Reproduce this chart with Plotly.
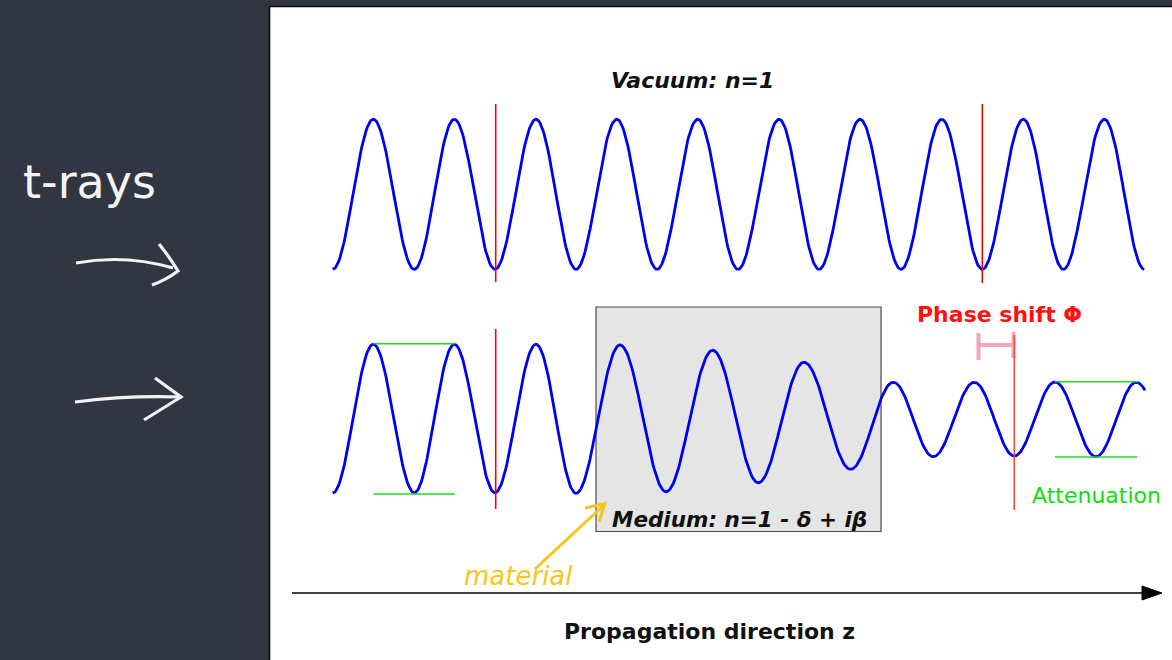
import math
import plotly.graph_objects as go

# ---------------- data (diagram units = canvas pixels) ----------------
# Vacuum wave: extrema (x, y), alternating trough/peak
vac_ext_x = [332.7, 373.3, 414.3, 454.3, 495.0, 536.0, 576.0, 616.7, 657.0, 697.7,
             738.0, 779.0, 819.0, 860.0, 901.0, 941.7, 982.3, 1023.3, 1063.3, 1104.3, 1144.3]
vac_ext_y = [269.3, 119.3, 269.3, 119.3, 269.3, 119.3, 269.3, 119.3, 269.3, 119.3,
             269.3, 119.3, 269.3, 119.3, 269.3, 119.3, 269.3, 119.3, 269.3, 119.3, 269.3]
vac_end_x = 1144.3

# Medium wave: extrema (before, inside and after the medium box)
med_ext_x = [332.7, 373.3, 414.3, 454.3, 495.0, 536.0, 576.0, 620.0, 666.0, 712.7,
             758.3, 804.0, 850.7, 893.3, 933.3, 974.3, 1014.3, 1055.0, 1096.0, 1136.3, 1177.0]
med_ext_y = [493.0, 344.3, 492.7, 344.3, 492.7, 344.3, 493.3, 345.0, 491.7, 350.3,
             482.7, 362.3, 469.3, 382.3, 456.7, 382.3, 456.0, 382.0, 456.7, 382.3, 456.7]
med_end_x = 1145.0

# Medium box
box_x = [596.0, 881.0]
box_y = [307.0, 531.5]

# Red reference lines (x, y_top, y_bottom)
red_x = [495.7, 982.3, 495.7, 1014.3]
red_y0 = [104.0, 104.0, 329.0, 335.0]
red_y1 = [282.0, 283.0, 509.0, 510.0]
red_col = ["#ff0000", "#ff0000", "#ff0000", "#f24848"]

# Green amplitude lines (x0, x1, y)
green_x0 = [373.3, 373.3, 1055.0, 1055.0]
green_x1 = [455.0, 455.0, 1138.3, 1137.0]
green_y = [343.7, 494.0, 381.7, 457.0]

# Propagation axis
axis_x = [292.0, 1146.0]
axis_y = 593.0
arrow_tip = [1162.0, 593.0]
arrow_half_h = 7.0
arrow_len = 20.0

# Panel
panel_x = [269.5, 1175.0]
panel_y = [6.5, 665.0]

# Labels
labels_text = ["<b><i>Vacuum: n=1</i></b>",
               "<b><i>Medium: n=1 - δ + iβ</i></b>",
               "<b>Phase shift Φ</b>",
               "Attenuation",
               "<b>Propagation direction z</b>"]
labels_x = [692.0, 739.7, 999.0, 1096.0, 709.5]
labels_y = [80.0, 519.0, 314.5, 495.5, 631.0]
labels_col = ["#111111", "#111111", "#ff1111", "#11dd11", "#111111"]
labels_size = [22, 21.5, 22, 22, 22]

# Handwritten notes
hand_text = ["t-rays", "material"]
hand_x = [89.0, 518.0]
hand_y = [182.0, 576.0]
hand_col = ["#f4f4f4", "#f8c520"]
hand_size = [46, 26]

# Handwritten strokes (SVG paths in canvas units)
white_paths = ["M 76 263 Q 125 254 173 268",
               "M 159 244 Q 171 259 178 271 Q 166 280 152 285",
               "M 75 402 Q 128 395 182 397",
               "M 155 378 L 181 397 L 144 420"]
yellow_paths = ["M 535 569 L 604 505", "M 585 508 L 605 503.5 L 599 522"]
pink_paths = ["M 978.5 333 L 978.5 360", "M 978.5 345 L 1012 345", "M 1013.5 332 L 1013.5 358"]

BG = "#323643"


def cos_interp(xs, ys, x_end, step=1.0):
    px, py = [], []
    for i in range(len(xs) - 1):
        x0, x1, y0, y1 = xs[i], xs[i + 1], ys[i], ys[i + 1]
        n = max(int((x1 - x0) / step), 2)
        for j in range(n + 1):
            t = j / n
            x = x0 + t * (x1 - x0)
            if x > x_end:
                t = (x_end - x0) / (x1 - x0)
                px.append(x_end)
                py.append(y0 + (y1 - y0) * (1 - math.cos(math.pi * t)) / 2)
                return px, py
            px.append(x)
            py.append(y0 + (y1 - y0) * (1 - math.cos(math.pi * t)) / 2)
    return px, py


fig = go.Figure()

shapes = []
# white panel
shapes.append(dict(type="rect", xref="x", yref="y", x0=panel_x[0], x1=panel_x[1],
                   y0=panel_y[0], y1=panel_y[1], fillcolor="white",
                   line=dict(color="#0a0a0a", width=1.6), layer="below"))
# medium box
shapes.append(dict(type="rect", xref="x", yref="y", x0=box_x[0], x1=box_x[1],
                   y0=box_y[0], y1=box_y[1], fillcolor="#e5e5e5",
                   line=dict(color="#4a4a4a", width=1.2), layer="below"))

# waves
for xs, ys, xe in [(vac_ext_x, vac_ext_y, vac_end_x), (med_ext_x, med_ext_y, med_end_x)]:
    wx, wy = cos_interp(xs, ys, xe)
    fig.add_trace(go.Scatter(x=wx, y=wy, mode="lines",
                             line=dict(color="#0000f0", width=2.8),
                             hoverinfo="skip", showlegend=False))

# red lines
for x, y0, y1, c in zip(red_x, red_y0, red_y1, red_col):
    fig.add_trace(go.Scatter(x=[x, x], y=[y0, y1], mode="lines",
                             line=dict(color=c, width=1.6),
                             hoverinfo="skip", showlegend=False))

# green lines
for x0, x1, y in zip(green_x0, green_x1, green_y):
    fig.add_trace(go.Scatter(x=[x0, x1], y=[y, y], mode="lines",
                             line=dict(color="#1cdc1c", width=1.6),
                             hoverinfo="skip", showlegend=False))

# propagation axis
fig.add_trace(go.Scatter(x=axis_x, y=[axis_y, axis_y], mode="lines",
                         line=dict(color="#000000", width=1.5),
                         hoverinfo="skip", showlegend=False))
fig.add_trace(go.Scatter(x=[arrow_tip[0] - arrow_len, arrow_tip[0], arrow_tip[0] - arrow_len, arrow_tip[0] - arrow_len],
                         y=[arrow_tip[1] - arrow_half_h, arrow_tip[1], arrow_tip[1] + arrow_half_h, arrow_tip[1] - arrow_half_h],
                         mode="lines", fill="toself", fillcolor="#000000",
                         line=dict(color="#000000", width=1),
                         hoverinfo="skip", showlegend=False))

# handwritten strokes
for p in white_paths:
    shapes.append(dict(type="path", xref="x", yref="y", path=p,
                       line=dict(color="#f2f2f2", width=3.2), layer="above"))
for p in yellow_paths:
    shapes.append(dict(type="path", xref="x", yref="y", path=p,
                       line=dict(color="#f8c520", width=3), layer="above"))
for p in pink_paths:
    shapes.append(dict(type="path", xref="x", yref="y", path=p,
                       line=dict(color="rgba(242,150,180,0.85)", width=4), layer="below"))

annotations = []
for t, x, y, c, s in zip(labels_text, labels_x, labels_y, labels_col, labels_size):
    annotations.append(dict(text=t, x=x, y=y, xref="x", yref="y", showarrow=False,
                            xanchor="center", yanchor="middle",
                            font=dict(family="DejaVu Sans", size=s, color=c)))
for t, x, y, c, s in zip(hand_text, hand_x, hand_y, hand_col, hand_size):
    annotations.append(dict(text="<i>" + t + "</i>" if t == "material" else t,
                            x=x, y=y, xref="x", yref="y", showarrow=False,
                            xanchor="center", yanchor="middle",
                            font=dict(family="DejaVu Sans", size=s, color=c)))

fig.update_layout(
    width=1172, height=660,
    margin=dict(l=0, r=0, t=0, b=0),
    paper_bgcolor=BG, plot_bgcolor=BG,
    xaxis=dict(range=[0, 1172], visible=False, fixedrange=True),
    yaxis=dict(range=[660, 0], visible=False, fixedrange=True),
    shapes=shapes, annotations=annotations,
    showlegend=False,
)

fig.write_html("out.html", config={"displayModeBar": False},
               post_script="document.body.style.margin='0';document.body.style.overflow='hidden';document.body.style.background='" + BG + "';")
